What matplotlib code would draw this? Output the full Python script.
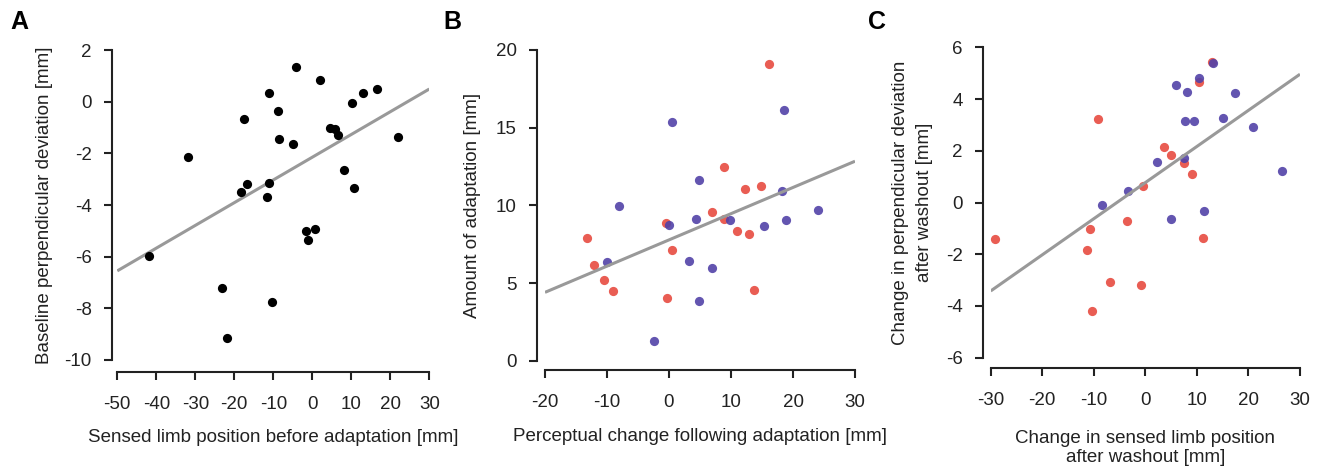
import matplotlib
matplotlib.use("Agg")
import matplotlib.pyplot as plt
import numpy as np

plt.rcParams['font.family'] = ['Liberation Sans', 'DejaVu Sans']
plt.rcParams['axes.unicode_minus'] = False

# ---------------- Data ----------------
# Panel A
a_x = [-42.0, -32.0, -23.2, -22.0, -18.3, -16.7, -17.4, -11.0, -8.8, -8.5, -11.1, -11.6,
       -10.4, -4.3, -5.0, -1.5, -1.2, 0.6, 2.0, 4.5, 5.7, 6.5, 8.0, 10.3, 10.7, 13.1, 16.7, 21.9]
a_y = [-5.96, -2.13, -7.2, -9.14, -3.48, -3.19, -0.67, 0.33, -0.35, -1.44, -3.16, -3.70,
       -7.74, 1.35, -1.65, -5.02, -5.34, -4.93, 0.84, -1.0, -1.05, -1.29, -2.63, -0.04, -3.33,
       0.35, 0.5, -1.35]
a_fit_x = [-50, 30]
a_fit_y = [-6.55, 0.49]

# Panel B
b_red_x = [16.1, 8.8, 12.3, 14.9, 6.9, 8.9, 10.9, 12.95, -0.5, 0.5, -13.2, -12.1, -10.5, -9.1, -0.4, 13.7]
b_red_y = [19.08, 12.49, 11.04, 11.27, 9.59, 9.14, 8.37, 8.14, 8.85, 7.15, 7.9, 6.16, 5.2, 4.51, 4.04, 4.57]
b_blue_x = [18.6, 0.5, 4.9, -8.1, 18.3, 24.1, 4.4, 9.8, 0.0, 15.3, 18.8, -10.0, 3.3, 7.0, 4.9, -2.4]
b_blue_y = [16.16, 15.35, 11.65, 9.96, 10.93, 9.7, 9.12, 9.08, 8.76, 8.67, 9.04, 6.37, 6.44, 5.95, 3.86, 1.29]
b_fit_x = [-20, 30]
b_fit_y = [4.40, 12.84]

# Panel C
c_red_x = [-29.2, -9.2, -10.8, -11.4, -10.4, -6.8, -0.9, -3.6, -0.4, 3.6, 4.9, 7.5, 9.1, 11.1, 10.4, 12.9]
c_red_y = [-1.40, 3.22, -1.04, -1.84, -4.2, -3.07, -3.18, -0.71, 0.65, 2.14, 1.82, 1.51, 1.12, -1.39, 4.64, 5.45]
c_blue_x = [13.1, 10.4, 6.0, 8.0, 17.4, 7.7, 9.4, 15.0, 20.8, 26.5, 2.2, 7.5, -3.4, -8.4, 5.0, 11.4]
c_blue_y = [5.39, 4.83, 4.55, 4.28, 4.23, 3.15, 3.15, 3.26, 2.91, 1.22, 1.58, 1.72, 0.46, -0.08, -0.63, -0.31]
c_fit_x = [-30, 30]
c_fit_y = [-3.42, 4.96]

a_xticks = [-50, -40, -30, -20, -10, 0, 10, 20, 30]
a_yticks = [-10, -8, -6, -4, -2, 0, 2]
b_xticks = [-20, -10, 0, 10, 20, 30]
b_yticks = [0, 5, 10, 15, 20]
c_xticks = [-30, -20, -10, 0, 10, 20, 30]
c_yticks = [-6, -4, -2, 0, 2, 4, 6]

RED = '#e8544a'
BLUE = '#5242a8'
GRAY = '#999999'
SPINE = '#222222'
TXT = '#222222'
FS = 13.5

W, H = 1322, 468
fig = plt.figure(figsize=(W / 100, H / 100), dpi=100)


def add_ax(x0, x1, y0, y1):
    # pixel coords (top-left origin) -> figure fraction
    return fig.add_axes([x0 / W, 1 - y1 / H, (x1 - x0) / W, (y1 - y0) / H])


def style(ax, xlim, ylim, xticks, yticks, left_off, bottom_off):
    ax.set_xlim(xlim)
    ax.set_ylim(ylim)
    ax.set_xticks(xticks)
    ax.set_yticks(yticks)
    ax.spines['top'].set_visible(False)
    ax.spines['right'].set_visible(False)
    ax.spines['left'].set_position(('outward', left_off * 0.72))
    ax.spines['bottom'].set_position(('outward', bottom_off * 0.72))
    for s in ('left', 'bottom'):
        ax.spines[s].set_linewidth(1.5)
        ax.spines[s].set_color(SPINE)
    ax.tick_params(axis='both', direction='out', length=5.8, width=1.5, color=SPINE,
                   labelsize=FS, labelcolor=TXT)
    ax.tick_params(axis='x', pad=11.5)
    ax.tick_params(axis='y', pad=8.5)
    ax.set_facecolor('none')


MS = 44

# Panel A
axA = add_ax(117.3, 429.3, 50, 360)
axA.plot(a_fit_x, a_fit_y, color=GRAY, lw=2.2, zorder=1, solid_capstyle='butt')
axA.scatter(a_x, a_y, s=MS, color='black', zorder=2, clip_on=False, linewidths=0)
style(axA, (-50, 30), (-10, 2), a_xticks, a_yticks, 5.6, 11.7)
axA.set_xlabel('Sensed limb position before adaptation [mm]', fontsize=FS, labelpad=12, color=TXT)
axA.set_ylabel('Baseline perpendicular deviation [mm]', fontsize=FS, labelpad=8, color=TXT)

# Panel B
axB = add_ax(545, 855, 50, 360.7)
axB.plot(b_fit_x, b_fit_y, color=GRAY, lw=2.2, zorder=3, solid_capstyle='butt')
axB.scatter(b_red_x, b_red_y, s=MS, color=RED, alpha=0.95, zorder=2, clip_on=False, linewidths=0)
axB.scatter(b_blue_x, b_blue_y, s=MS, color=BLUE, alpha=0.9, zorder=2, clip_on=False, linewidths=0)
style(axB, (-20, 30), (0, 20), b_xticks, b_yticks, 8.3, 9.3)
axB.set_xlabel('Perceptual change following adaptation [mm]', fontsize=FS, labelpad=12, color=TXT)
axB.set_ylabel('Amount of adaptation [mm]', fontsize=FS, labelpad=11, color=TXT)

# Panel C
axC = add_ax(990.7, 1300, 47.3, 357.7)
axC.plot(c_fit_x, c_fit_y, color=GRAY, lw=2.2, zorder=3, solid_capstyle='butt')
axC.scatter(c_red_x, c_red_y, s=MS, color=RED, alpha=0.95, zorder=2, clip_on=False, linewidths=0)
axC.scatter(c_blue_x, c_blue_y, s=MS, color=BLUE, alpha=0.9, zorder=2, clip_on=False, linewidths=0)
style(axC, (-30, 30), (-6, 6), c_xticks, c_yticks, 8.0, 10.6)
axC.set_xlabel('Change in sensed limb position\nafter washout [mm]', fontsize=FS, labelpad=15,
               color=TXT, linespacing=1.15)
axC.set_ylabel('Change in perpendicular deviation\nafter washout [mm]', fontsize=FS, labelpad=9,
               color=TXT, linespacing=1.55)

for lbl, px in (('A', 10), ('B', 443), ('C', 868)):
    fig.text(px / W, 1 - 22 / H, lbl, fontsize=18, fontweight='bold', va='center', ha='left')

fig.savefig('out.png', dpi=100)
